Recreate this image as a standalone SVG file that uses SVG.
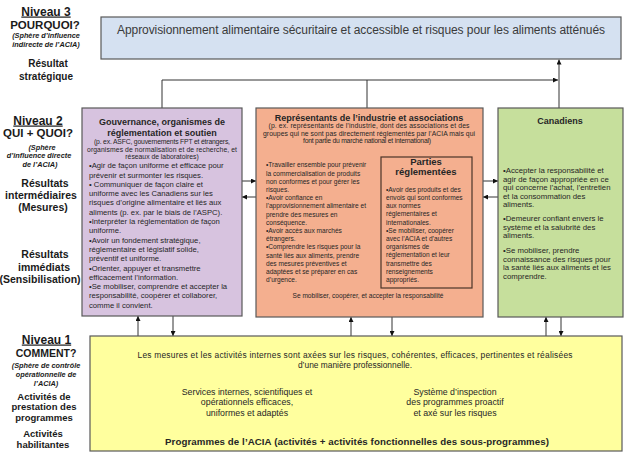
<svg xmlns="http://www.w3.org/2000/svg" width="630" height="460" viewBox="0 0 630 460">
<style>
text{font-family:"Liberation Sans",Arial,sans-serif;fill:#262626}
.box{stroke:#595959;stroke-width:1.2}
.lbl{font-weight:bold;text-anchor:middle;fill:#1a1a1a}
.niv{font-size:12px;text-decoration:underline}
.q{font-size:11.5px}
.sph{font-size:7.3px;font-style:italic}
.l3{font-size:10px}
.l2{font-size:10.5px}
.l1{font-size:9.5px}
.t{font-weight:bold;font-size:9px;text-anchor:middle}
.sm{font-size:6.8px;text-anchor:middle}
.pb{font-size:7.7px}
.ob{font-size:6.6px}
.gb{font-size:7.8px}
.yb{font-size:8.8px;text-anchor:middle}
.conn{stroke:#333;stroke-width:1;fill:none}
</style>
<defs>
<marker id="ah" markerUnits="userSpaceOnUse" markerWidth="5" markerHeight="5" refX="5" refY="2.5" orient="auto">
<path d="M0,0 L5,2.5 L0,5 z" fill="#111"/>
</marker>
</defs>

<g id="labels">
<text class="lbl niv" x="46" y="15.5">Niveau 3</text>
<text class="lbl q" x="45" y="28.5">POURQUOI?</text>
<text class="lbl sph" x="46" y="37.5">(Sphère d’influence</text>
<text class="lbl sph" x="46" y="46.5">indirecte de l’ACIA)</text>
<text class="lbl l3" x="48" y="67">Résultat</text>
<text class="lbl l3" x="46" y="80">stratégique</text>

<text class="lbl niv" x="38" y="124.5">Niveau 2</text>
<text class="lbl q" x="38" y="136.5">QUI + QUOI?</text>
<text class="lbl sph" x="42" y="149.5">(Sphère</text>
<text class="lbl sph" x="39" y="158">d’influence  directe</text>
<text class="lbl sph" x="40" y="166.5">de l’ACIA)</text>
<text class="lbl l2" x="45" y="186.5">Résultats</text>
<text class="lbl l2" x="41" y="199">intermédiaires</text>
<text class="lbl l2" x="43" y="210.5">(Mesures)</text>
<text class="lbl l2" x="45" y="257.5">Résultats</text>
<text class="lbl l2" x="44" y="270.5">immédiats</text>
<text class="lbl l2" x="40" y="282.5">(Sensibilisation)</text>

<text class="lbl niv" x="46.5" y="343.5">Niveau 1</text>
<text class="lbl" x="46" y="357" style="font-size:10.5px">COMMENT?</text>
<text class="lbl sph" x="46" y="367.5">(Sphère de contrôle</text>
<text class="lbl sph" x="46" y="376.5">opérationnelle  de</text>
<text class="lbl sph" x="46" y="385.5">l’ACIA)</text>
<text class="lbl l1" x="44" y="399.5">Activités de</text>
<text class="lbl l1" x="44" y="410">prestation des</text>
<text class="lbl l1" x="44" y="420.5">programmes</text>
<text class="lbl l1" x="43" y="436.5">Activités</text>
<text class="lbl l1" x="43" y="447.5">habilitantes</text>
</g>

<g id="connectors">
<path class="conn" d="M162,108 V80 H558" marker-end="url(#ah)"/>
<path class="conn" d="M367,80 V108"/>
<path class="conn" d="M559,108 V59.5" marker-end="url(#ah)"/>
<path class="conn" d="M242,181 H256" marker-end="url(#ah)"/>
<path class="conn" d="M256,197 H242" marker-end="url(#ah)"/>
<path class="conn" d="M483,181 H498" marker-end="url(#ah)"/>
<path class="conn" d="M498,197 H483" marker-end="url(#ah)"/>
<path class="conn" d="M138,336 V316" marker-end="url(#ah)"/>
<path class="conn" d="M173,316 V336" marker-end="url(#ah)"/>
<path class="conn" d="M351,336 V317" marker-end="url(#ah)"/>
<path class="conn" d="M392,317 V336" marker-end="url(#ah)"/>
<path class="conn" d="M546,336 V317" marker-end="url(#ah)"/>
<path class="conn" d="M561,317 V336" marker-end="url(#ah)"/>
</g>

<g id="resultat-strategique">
<rect class="box" x="101" y="17" width="520" height="42" fill="#d5e1f1"/>
<text x="361" y="33.5" style="font-size:12px;text-anchor:middle;fill:#3a3a3a" textLength="488">Approvisionnement alimentaire sécuritaire et accessible et risques pour les aliments atténués</text>
</g>

<g id="gouvernance">
<rect class="box" x="82" y="108" width="160" height="208" fill="#d7c3df"/>
<text class="t" x="162" y="125">Gouvernance, organismes de</text>
<text class="t" x="162" y="136">réglementation et soutien</text>
<text class="sm" x="162" y="144" textLength="136">(p. ex. ASFC, gouvernements FPT et étrangers,</text>
<text class="sm" x="162" y="151.5" textLength="150">organismes de normalisation et de recherche, et</text>
<text class="sm" x="162" y="159">réseaux de laboratoires)</text>
<g class="pb">
<text x="89" y="168.2">•Agir de façon uniforme et efficace pour</text>
<text x="89" y="177.5">prévenir et surmonter les risques.</text>
<text x="89" y="186.8">• Communiquer de façon claire et</text>
<text x="89" y="196.1">uniforme avec les Canadiens sur les</text>
<text x="89" y="205.4">risques d’origine alimentaire et liés aux</text>
<text x="89" y="214.7">aliments (p. ex. par le biais de l’ASPC).</text>
<text x="89" y="224">•Interpréter la réglementation de façon</text>
<text x="89" y="233.3">uniforme.</text>
<text x="89" y="242.6">•Avoir un fondement stratégique,</text>
<text x="89" y="251.9">réglementaire et législatif solide,</text>
<text x="89" y="261.2">préventif et uniforme.</text>
<text x="89" y="270.5">•Orienter, appuyer et transmettre</text>
<text x="89" y="279.8">efficacement l’information.</text>
<text x="89" y="289.1">•Se mobiliser, comprendre et accepter la</text>
<text x="89" y="298.4">responsabilité, coopérer et collaborer,</text>
<text x="89" y="307.7">comme il convient.</text>
</g>
</g>

<g id="industrie">
<rect class="box" x="256" y="108" width="227" height="209" fill="#f4af8f"/>
<text class="t" x="369" y="120.5">Représentants de l’industrie et associations</text>
<text class="sm" x="369" y="128.3" textLength="201">(p. ex. représentants de l’industrie, dont des associations et des</text>
<text class="sm" x="369" y="135.8" textLength="212">groupes qui ne sont pas directement réglementés par l’ACIA mais qui</text>
<text class="sm" x="367" y="143.3" textLength="128">font partie du marché national et international)</text>
<g class="ob">
<text x="266" y="167.4">•Travailler ensemble pour prévenir</text>
<text x="266" y="175.6">la commercialisation de produits</text>
<text x="266" y="183.8">non conformes et pour gérer les</text>
<text x="266" y="192">risques.</text>
<text x="266" y="200.2">•Avoir confiance en</text>
<text x="266" y="208.4">l’approvisionnement alimentaire et</text>
<text x="266" y="216.6">prendre des mesures en</text>
<text x="266" y="224.8">conséquence.</text>
<text x="266" y="233">•Avoir accès aux marchés</text>
<text x="266" y="241.2">étrangers.</text>
<text x="266" y="249.4">•Comprendre les risques pour la</text>
<text x="266" y="257.6">santé liés aux aliments, prendre</text>
<text x="266" y="265.8">des mesures préventives et</text>
<text x="266" y="274">adaptées et se préparer en cas</text>
<text x="266" y="282.2">d’urgence.</text>
</g>
<text class="ob" x="368" y="297.5" text-anchor="middle">Se mobiliser, coopérer, et accepter la responsabilité</text>
</g>

<g id="parties-reglementees">
<rect x="381" y="157" width="91" height="131" fill="#f4af8f" stroke="#4a3428" stroke-width="1.2"/>
<text class="t" x="426" y="165" style="font-size:9.5px">Parties</text>
<text class="t" x="426" y="175" style="font-size:9.5px">réglementées</text>
<g class="ob">
<text x="386" y="191.7">•Avoir des produits et des</text>
<text x="386" y="199.9">envois qui sont conformes</text>
<text x="386" y="208.1">aux normes</text>
<text x="386" y="216.3">réglementaires et</text>
<text x="386" y="224.5">internationales.</text>
<text x="386" y="232.7">•Se mobiliser, coopérer</text>
<text x="386" y="240.9">avec l’ACIA et d’autres</text>
<text x="386" y="249.1">organismes de</text>
<text x="386" y="257.3">réglementation et leur</text>
<text x="386" y="265.5">transmettre des</text>
<text x="386" y="273.7">renseignements</text>
<text x="386" y="281.9">appropriés.</text>
</g>
</g>

<g id="canadiens">
<rect class="box" x="498" y="108" width="125" height="209" fill="#c6df9c"/>
<text class="t" x="560" y="124">Canadiens</text>
<g class="gb">
<text x="503" y="173.3">•Accepter la responsabilité et</text>
<text x="503" y="181.8">agir de façon appropriée en ce</text>
<text x="503" y="190.3">qui concerne l’achat, l’entretien</text>
<text x="503" y="198.8">et la consommation des</text>
<text x="503" y="207.3">aliments.</text>
<text x="503" y="221.3">•Demeurer confiant envers le</text>
<text x="503" y="229.8">système et la salubrité des</text>
<text x="503" y="238.3">aliments.</text>
<text x="503" y="253.3">•Se mobiliser, prendre</text>
<text x="503" y="261.8">connaissance des risques pour</text>
<text x="503" y="270.3">la santé liés aux aliments et les</text>
<text x="503" y="278.8">comprendre.</text>
</g>
</g>

<g id="programmes">
<rect class="box" x="90" y="336" width="532" height="115" fill="#ffff9e"/>
<text class="yb" x="355" y="357.5" style="font-size:8.4px" textLength="435">Les mesures et les activités internes sont axées sur les risques, cohérentes, efficaces, pertinentes et réalisées</text>
<text class="yb" x="355" y="367.5" style="font-size:8.4px">d’une manière professionnelle.</text>
<text class="yb" x="247" y="394.5">Services internes, scientifiques et</text>
<text class="yb" x="247" y="405">opérationnels efficaces,</text>
<text class="yb" x="247" y="415.5">uniformes et adaptés</text>
<text class="yb" x="455" y="394.5">Système d’inspection</text>
<text class="yb" x="455" y="405">des programmes proactif</text>
<text class="yb" x="455" y="415.5">et axé sur les risques</text>
<text x="357" y="445" style="font-weight:bold;font-size:9.7px;text-anchor:middle" textLength="384">Programmes de l’ACIA (activités + activités fonctionnelles des sous-programmes)</text>
</g>
</svg>
